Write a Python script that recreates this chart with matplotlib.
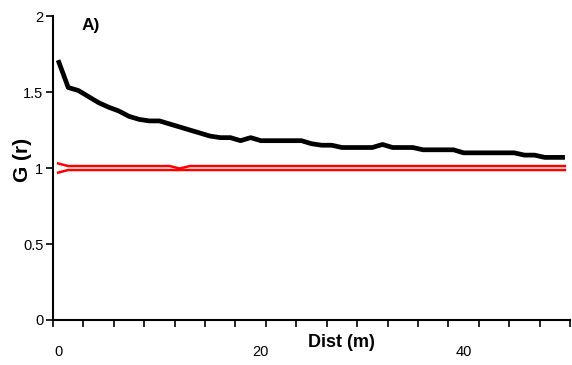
import matplotlib.pyplot as plt
import numpy as np

dist = np.arange(0, 51)
g_obs = [1.71, 1.53, 1.51, 1.47, 1.43, 1.40, 1.375, 1.34, 1.32, 1.31,
         1.31, 1.29, 1.27, 1.25, 1.23, 1.21, 1.20, 1.20, 1.18, 1.20,
         1.18, 1.18, 1.18, 1.18, 1.18, 1.16, 1.15, 1.15, 1.135, 1.135,
         1.135, 1.135, 1.155, 1.135, 1.135, 1.135, 1.12, 1.12, 1.12, 1.12,
         1.10, 1.10, 1.10, 1.10, 1.10, 1.10, 1.085, 1.085, 1.07, 1.07,
         1.07]
env_hi = [1.03] + [1.013] * 11 + [0.997] + [1.013] * 38
env_lo = [0.97] + [0.987] * 50
xlabels = [0, 20, 40]
yticks = [0, 0.5, 1, 1.5, 2]

narrow = ['Liberation Sans Narrow', 'Liberation Sans', 'DejaVu Sans']

fig = plt.figure(figsize=(5.72, 3.65), dpi=100)
ax = fig.add_axes([0.0927, 0.1233, 0.9038, 0.8327])

ax.plot(dist, env_hi, color='#ff0000', lw=1.8)
ax.plot(dist, env_lo, color='#ff0000', lw=1.8)
ax.plot(dist, g_obs, color='black', lw=3.4, solid_capstyle='butt')

ax.set_xlim(-0.5, 50.5)
ax.set_ylim(0, 2)
for s in ['top', 'right']:
    ax.spines[s].set_visible(False)
for s in ['left', 'bottom']:
    ax.spines[s].set_linewidth(1.5)

ax.set_xticks(np.arange(-0.5, 51, 3))
ax.set_xticklabels([])
ax.tick_params(axis='x', length=5, width=1.2)
for v in xlabels:
    ax.text(v, -0.21, str(v), ha='center', va='center', fontsize=10.5,
            family=narrow)

ax.set_yticks(yticks)
ax.set_yticklabels(['0', '0.5', '1', '1.5', '2'], family=narrow, fontsize=10.5)
ax.tick_params(axis='y', length=5, width=1.2, pad=2)

ax.set_ylabel('G (r)', fontsize=15, fontweight='bold', family=narrow)
ax.yaxis.set_label_coords(-0.041, 0.526)
ax.text(28, -0.15, 'Dist (m)', ha='center', va='center', fontsize=13,
        fontweight='bold', family=narrow)
ax.text(3.25, 1.94, 'A)', ha='center', va='center', fontsize=12.5,
        fontweight='bold', family=narrow)

fig.savefig('out.png', dpi=100)
